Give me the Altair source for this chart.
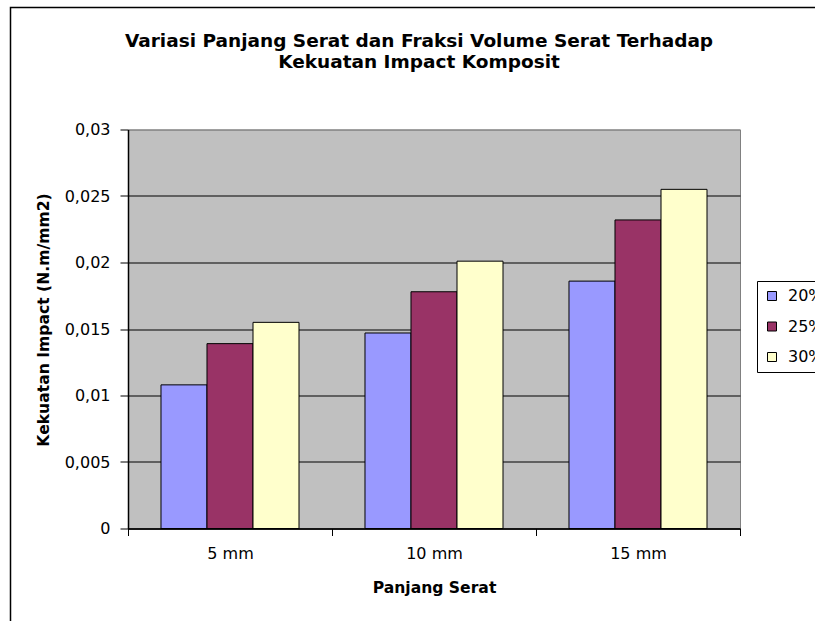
import altair as alt
import pandas as pd

panjang = ["5 mm", "10 mm", "15 mm"]
fraksi = ["20%", "25%", "30%"]
v20 = [0.0108, 0.0147, 0.0186]
v25 = [0.0139, 0.0178, 0.0232]
v30 = [0.0155, 0.0201, 0.0255]
y_ticks = [0, 0.005, 0.01, 0.015, 0.02, 0.025, 0.03]
colors = ["#9999FF", "#993366", "#FFFFCC"]
title_lines = ["Variasi Panjang Serat dan Fraksi Volume Serat Terhadap",
               "Kekuatan Impact Komposit"]

rows = []
for series, vals in zip(fraksi, [v20, v25, v30]):
    for cat, v in zip(panjang, vals):
        rows.append({"Panjang Serat": cat, "Fraksi": series, "Kekuatan": v})
df = pd.DataFrame(rows)

FONT = "DejaVu Sans"

bars = alt.Chart(df).mark_bar(stroke="black", strokeWidth=1).encode(
    x=alt.X("Panjang Serat:N", sort=panjang,
            scale=alt.Scale(paddingInner=0, paddingOuter=0),
            axis=alt.Axis(title="Panjang Serat", labelAngle=0, tickBand="extent",
                          domainColor="black", domainWidth=1.5,
                          tickColor="black", tickSize=7, tickWidth=1,
                          labelFont=FONT, labelFontSize=16, labelColor="black",
                          labelPadding=10,
                          titleFont=FONT, titleFontSize=15.6, titleFontWeight="bold",
                          titleColor="black", titleBaseline="top", titleY=52,
                          grid=False)),
    xOffset=alt.XOffset("Fraksi:N", sort=fraksi,
                        scale=alt.Scale(paddingInner=0, paddingOuter=0.717)),
    y=alt.Y("Kekuatan:Q", scale=alt.Scale(domain=[0, 0.03], nice=False),
            axis=alt.Axis(title="Kekuatan Impact (N.m/mm2)", values=y_ticks,
                          labelExpr="replace(format(datum.value, '.3~f'), '.', ',')",
                          grid=True,
                          gridColor={"condition": {"test": "datum.value >= 0.03", "value": "#808080"},
                                     "value": "black"},
                          gridWidth=1,
                          domainColor="black", domainWidth=1.5,
                          tickColor="black", tickSize=8, tickWidth=1,
                          labelFont=FONT, labelFontSize=16, labelColor="black",
                          labelPadding=10,
                          titleFont=FONT, titleFontSize=15.6, titleFontWeight="bold",
                          titleColor="black", titleBaseline="top", titleX=-92,
                          titleY=190, titleAngle=270)),
    color=alt.Color("Fraksi:N", sort=fraksi,
                    scale=alt.Scale(domain=fraksi, range=colors),
                    legend=alt.Legend(title=None, orient="none", legendX=629, legendY=151.5,
                                      strokeColor="black", fillColor="white", padding=7,
                                      symbolType="square", symbolSize=81,
                                      symbolStrokeColor="black", symbolStrokeWidth=1,
                                      labelFont=FONT, labelFontSize=16, labelColor="black",
                                      rowPadding=14.5, labelOffset=8, cornerRadius=0)),
)

frame = alt.Chart(alt.Data(values=[{"a": 1}])).mark_rect(
    fillOpacity=0, stroke="black", strokeWidth=1.5
).encode(x=alt.value(-117.5), x2=alt.value(720), y=alt.value(-122), y2=alt.value(520))

chart = alt.layer(bars, frame).properties(
    width=612, height=399,
    autosize=alt.AutoSizeParams(type="none"),
    padding={"left": 128, "top": 129.5, "right": 75, "bottom": 92.5},
    background="white",
    title=alt.Title(text=title_lines, font=FONT, fontSize=18.5, fontWeight="bold",
                    color="black", anchor="middle", frame="group", offset=-64.75,
                    dx=-15, lineHeight=21),
).configure_view(fill="#C0C0C0", stroke="#808080", strokeWidth=1)

chart.save("out.html", embed_options={"renderer": "svg", "actions": False})
